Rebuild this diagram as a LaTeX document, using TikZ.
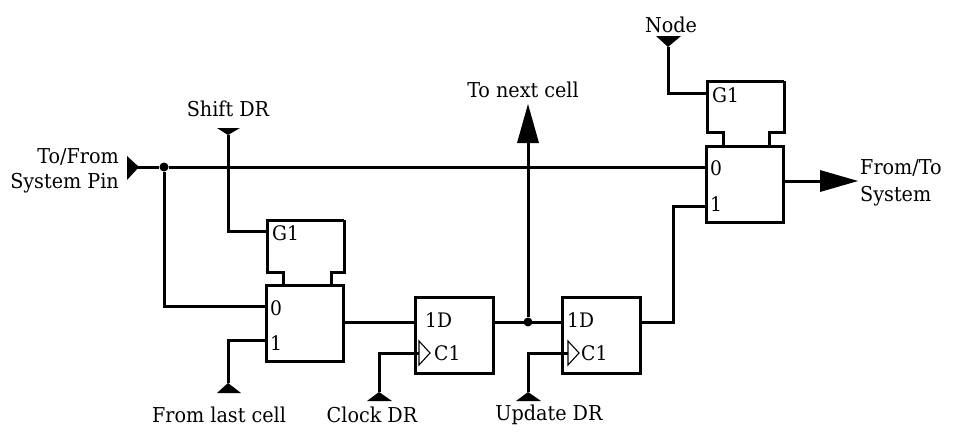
\documentclass[tikz,border=0pt]{standalone}
\usepackage{fontspec}
\setmainfont[FakeStretch=1.04]{DejaVu Serif Condensed}
\begin{document}
\begin{tikzpicture}[x=1pt,y=-1pt,
  wire/.style={line width=3pt,line cap=butt,line join=miter},
  boxn/.style={draw,line width=3pt,rectangle,outer sep=0pt,minimum height=76pt,inner sep=0pt,anchor=north west},
  lbl/.style={font=\fontsize{20.5}{22}\selectfont,inner sep=0pt},
  pin/.style={font=\fontsize{20}{22}\selectfont,inner sep=0pt,anchor=west},
  dotn/.style={circle,fill=black,minimum size=9pt,inner sep=0pt},
  clk/.style={draw,line width=1.1pt,fill=white,line join=miter}]
\useasboundingbox (0,0) rectangle (956,442);
% boxes
\node[boxn,minimum width=77pt] (m1) at (266,285) {};
\node[boxn,minimum width=77pt] (m2) at (706,146) {};
\node[boxn,minimum width=78pt] (f1) at (415,297) {};
\node[boxn,minimum width=78pt] (f2) at (562,297) {};
% select blocks
\coordinate (g1) at (267,220);
\coordinate (g1r) at (344,220);
\draw[wire] ([xshift=17pt]m1.north west) -- ++(0,-13) -- ++(-16,0) -- (g1) -- (g1r) ;
\draw[wire] ([xshift=-12pt]m1.north east) -- ++(0,-13) -- (g1r |- 0,272) -- (g1r);
\coordinate (g2) at (707,81);
\coordinate (g2r) at (784,81);
\draw[wire] ([xshift=17pt]m2.north west) -- ++(0,-14) -- ++(-16,0) -- (g2) -- (g2r);
\draw[wire] ([xshift=-14pt]m2.north east) -- ++(0,-14) -- (g2r |- 0,132) -- (g2r);
% pins
\coordinate (pinA) at (137,167);
\node[dotn] (jA) at (164,167) {};
\coordinate (m2i0) at (706,167);
\coordinate (m2i1) at (706,206);
\coordinate (m2g) at (707,93);
\coordinate (m1i0) at (266,306);
\coordinate (m1i1) at (266,340);
\coordinate (m1g) at (267,231);
\coordinate (m1o) at (343,322);
\coordinate (f1d) at (415,322);
\coordinate (f1o) at (493,322);
\coordinate (f1c) at (419,353);
\coordinate (f2d) at (562,322);
\coordinate (f2o) at (640,322);
\coordinate (f2c) at (568,353);
\node[dotn] (jB) at (528,322) {};
\coordinate (nodeT) at (668,47);
\coordinate (shiftT) at (228,135);
\coordinate (lastT) at (228,383);
\coordinate (clockT) at (379,392);
\coordinate (updT) at (528,392);
\coordinate (nextT) at (528,143);
\coordinate (m2o) at (784,181);
\coordinate (outT) at (820,181);
% wires
\draw[wire] (pinA) -- (jA) -- (m2i0);
\draw[wire] (jA) |- (m1i0);
\draw[wire] (shiftT) |- (m1g);
\draw[wire] (lastT) |- (m1i1);
\draw[wire] (m1o) -- (f1d);
\draw[wire] (f1o) -- (f2d);
\draw[wire] (jB) -- (nextT);
\draw[wire] (clockT) |- (f1c);
\draw[wire] (updT) |- (f2c);
\draw[wire] (f2o) -- ++(33,0) |- (m2i1);
\draw[wire] (nodeT) |- (m2g);
\draw[wire] (m2o) -- (outT);
% arrowheads
\fill (139,167) -- ++(-12,-11) -- ++(0,24) -- cycle;
\fill (nodeT) -- ++(-12,-11) -- ++(25,0) -- cycle;
\fill (shiftT) -- ++(-11,-7) -- ++(23,0) -- cycle;
\fill (lastT) -- ++(-11,10) -- ++(24,0) -- cycle;
\fill (clockT) -- ++(-12,9) -- ++(25,0) -- cycle;
\fill (updT) -- ++(-12,9) -- ++(25,0) -- cycle;
\fill (nextT) -- ++(-11,0) -- ++(11,-39) -- ++(11,39) -- cycle;
\fill (outT) -- ++(0,-11) -- ++(38,11) -- ++(-38,11) -- cycle;
% clock triangles
\draw[clk] (f1c)++(0,-12) -- ++(11,12) -- ++(-11,12) -- cycle;
\draw[clk] (f2c)++(0,-12) -- ++(11,12) -- ++(-11,12) -- cycle;
% pin labels
\node[pin] (tg1) at (272,233) {G1};
\node[pin] (t0a) at (270,308) {0};
\node[pin] (t1a) at (270,343) {1};
\node[pin] (tg2) at (712,95) {G1};
\node[pin] (t0b) at (710,168) {0};
\node[pin] (t1b) at (710,204) {1};
\node[pin] (td1) at (425,320) {1D};
\node[pin] (tc1) at (434,353) {C1};
\node[pin] (td2) at (567,320) {1D};
\node[pin] (tc2) at (581,353) {C1};
% signal labels
\node[lbl,anchor=east] (a1) at (119,157) {To/From};
\node[lbl,anchor=east] (a2) at (119,183) {System Pin};
\node[lbl] (b) at (228,109) {Shift DR};
\node[lbl] (c) at (523,90) {To next cell};
\node[lbl] (d) at (671,25) {Node};
\node[lbl,anchor=west] (e1) at (860,168) {From/To};
\node[lbl,anchor=west] (e2) at (860,196) {System};
\node[lbl] (f) at (219,415) {From last cell};
\node[lbl] (g) at (372,415) {Clock DR};
\node[lbl] (h) at (549,415) {Update DR};
\end{tikzpicture}
\end{document}
